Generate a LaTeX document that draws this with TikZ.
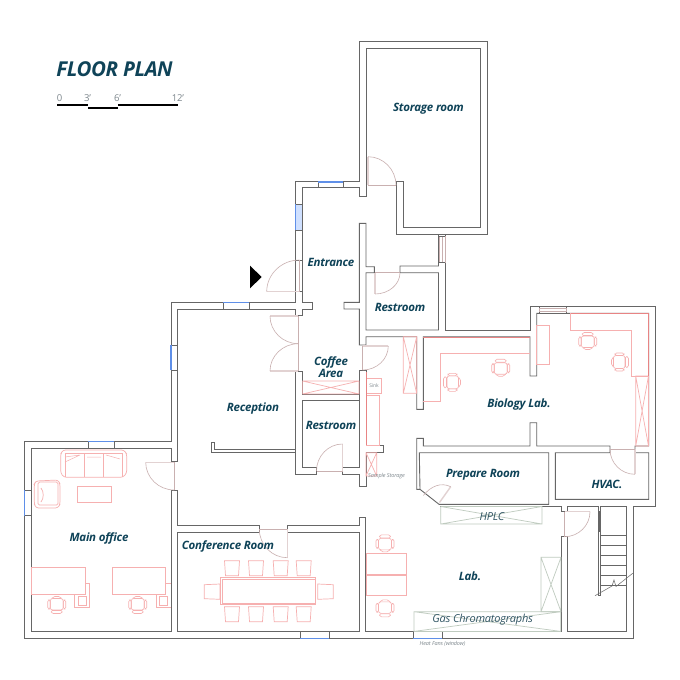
\documentclass[tikz,border=0pt]{standalone}
\usepackage{fontspec}
\setmainfont[LetterSpace=-2]{Open Sans}
\usetikzlibrary{calc}
\definecolor{wallc}{HTML}{666666}
\definecolor{doorc}{HTML}{C9B0B0}
\definecolor{leafc}{HTML}{E2D2D2}
\definecolor{redc}{HTML}{F6B0B0}
\definecolor{darkred}{HTML}{E88484}
\definecolor{greenc}{HTML}{BFCBBF}
\definecolor{bluec}{HTML}{5F8FE8}
\definecolor{lblue}{HTML}{CFE0FF}
\definecolor{teal0}{HTML}{0F4358}
\definecolor{grayt}{HTML}{7C868C}
\tikzset{
 wall/.style={draw=wallc,line width=0.9pt,line join=miter},
 jamb/.style={draw=wallc,line width=0.7pt},
 win/.style={draw=bluec,line width=1.5pt},
 doorarc/.style={draw=doorc,line width=0.6pt},
 leaf/.style={draw=leafc,line width=1.4pt},
 furn/.style={draw=redc,line width=0.7pt},
 furnd/.style={draw=darkred,line width=0.7pt},
 equip/.style={draw=greenc,line width=0.7pt},
 room/.style={text=teal0,font=\bfseries\itshape\fontsize{11.5}{12}\selectfont,inner sep=0pt,align=center},
 thin/.style={text=grayt,inner sep=0pt},
}
\newcommand\door[6]{%
 \draw[leaf] (#1,#2)--(#3,#4);
 \draw[doorarc] (#3,#4) .. controls ($(#3,#4)+0.55*(#5,#6)-0.55*(#1,#2)$) and ($(#5,#6)+0.55*(#3,#4)-0.55*(#1,#2)$) .. (#5,#6);
 \draw[doorarc] (#1,#2)--(#5,#6);
}
\newcommand\xbox[5]{\draw[#1] (#2,#3) rectangle (#4,#5) (#2,#3)--(#4,#5) (#2,#5)--(#4,#3);}
\newcommand\hwin[4]{%
 \draw[jamb] (#1,#4) -- (#1,#3) (#2,#3) -- (#2,#4);
 \draw[win] (#1,#3)--(#2,#3);}
\newcommand\vwin[4]{%
 \draw[jamb] (#3,#1)--(#4,#1) (#3,#2)--(#4,#2);
 \draw[win] (#3,#1)--(#3,#2);}
\newcommand\chair[3]{%
 \begin{scope}[shift={(#1,#2)},rotate=#3,furn,line width=0.6pt]
  \draw[rounded corners=2.5pt] (-6.5,-6.5) rectangle (6.5,5);
  \draw[rounded corners=1.5pt] (-6,5.5) -- (6,5.5) -- (5,8.5) -- (-5,8.5) -- cycle;
  \draw[rounded corners=1.5pt] (-9,-5) rectangle (-6.5,4);
  \draw[rounded corners=1.5pt] (6.5,-5) rectangle (9,4);
  \draw[rounded corners=2pt] (-5,-6.5) -- (-4,-8.5) -- (4,-8.5) -- (5,-6.5);
 \end{scope}}
\newcommand\cchair[8]{\draw[furn] (#1,#2)--(#3,#4)--(#5,#6)--(#7,#8)--cycle;}
\begin{document}
\begin{tikzpicture}[x=1pt,y=-1pt]
\useasboundingbox (0,0) rectangle (680,680);
\fill[white] (0,0) rectangle (680,680);
%% outer outline
\draw[wall] (359.3,41.3)--(487.3,41.3)--(487.3,234)--(396.7,234)--(396.7,181.7)--(403.3,181.7)--(403.3,227.3)--(480.7,227.3)--(480.7,48)--(366,48)--(366,196.7)--(359.3,196.7)--(359.3,187.9)--(302.3,187.9)--(302.3,302.3)--(312.7,302.3)--(312.7,309)--(302.3,309)--(302.3,315)--(295.3,315)--(295.3,309)--(177.7,309)--(177.7,461.7)--(171,461.7)--(171,448.7)--(31.3,448.7)--(31.3,631.7)--(171,631.7)--(171,490)--(177.7,490)--(177.7,525.5)--(259.3,525.5)--(259.3,532.3)--(177.7,532.3)--(177.7,631.7)--(359.3,631.7)--(359.3,532.3)--(287.7,532.3)--(287.7,525.5)--(359.3,525.5)--(359.3,517.3)--(365.7,517.3)--(365.7,631.7)--(561.3,631.7)--(561.3,536.7)--(567.3,536.7)--(567.3,631.7)--(626.7,631.7)--(626.7,506)--(600.7,506)--(600.7,595)--(598.3,595)--(598.3,506)--(567.3,506)--(567.3,511.5)--(561.3,511.5)--(561.3,506)--(440,506);
\draw[wall] (359.3,41.3)--(359.3,181.7)--(295.3,181.7)--(295.3,302.3)--(171,302.3)--(171,441.7)--(24.3,441.7)--(24.3,638.3)--(633.3,638.3)--(633.3,506)--(655.7,506)--(655.7,306)--(530,306)--(530,330)--(445.3,330)--(445.3,234);
\draw[wall] (438.5,234)--(438.5,266)--(400,266)--(400,272.7)--(438.5,272.7)--(438.5,330)--(366,330)--(366,272.7)--(374.3,272.7)--(374.3,266.7)--(366,266.7)--(366,223.3)--(359.3,223.3)--(359.3,302.3)--(344,302.3)--(344,309)--(359.3,309)--(359.3,345)--(366,345)--(366,336.7)--(416.7,336.7)--(416.7,409.3)--(423.3,409.3)--(423.3,336.7)--(530,336.7)--(530,376)--(536.7,376)--(536.7,313.3)--(648.7,313.3)--(648.7,446)--(635,446)--(635,452.7)--(648.7,452.7)--(648.7,499.3)--(555.3,499.3)--(555.3,452.7)--(610,452.7)--(610,446)--(536.7,446)--(536.7,422.7)--(530,422.7)--(530,446)--(423.3,446)--(423.3,438.3)--(416.7,438.3)--(416.7,489.3)--(420,489.3)--(419.3,452.7)--(548.7,452.7)--(548.7,504.3)--(439,504.3)--(420,489.3);
\draw[wall] (295.7,371.7)--(295.7,474.3)--(316,474.3)--(316,467.7)--(302.3,467.7)--(302.3,400.7)--(359.3,400.7)--(359.3,467.7)--(342.7,467.7)--(342.7,474.3)--(359.3,474.3)--(359.3,486.7)--(366,486.7)--(366,452.3)--(383,452.3)--(383,445.7)--(366,445.7)--(366,370)--(359.3,370)--(359.3,394)--(302.3,394)--(302.3,371.7)--cycle;
\draw[wall] (359.3,400.7)--(359.3,394);
\draw[jamb] (295.3,260)--(302.3,260) (295.3,291.7)--(302.3,291.7);
% half wall
\draw[wall] (295.7,452)--(211.7,452)--(211.7,442.3)--(214.5,442.3)--(214.5,449.3)--(295.7,449.3);
%% windows
\hwin{318.3}{343.3}{182}{187.9}
\fill[lblue] (295.3,204.3) rectangle (302.3,230);
\vwin{204.3}{230}{295.3}{302.3}
\hwin{223.3}{249}{302.3}{309}
\vwin{345}{370}{171}{177.7}
\hwin{88.3}{114}{441.7}{448.7}
\vwin{490}{515.7}{24.3}{31.3}
\hwin{300}{329.3}{638.3}{631.7}
\hwin{413.3}{442.3}{638.3}{631.7}
% pink-grey windows
\fill[white] (439,235) rectangle (445,262);
\draw[doorc,line width=0.5pt] (439.5,236.7) rectangle (444.8,262.7) (442.1,236.7)--(442.1,262.7);
\draw[jamb] (438.5,236.7)--(445.3,236.7) (438.5,262.7)--(445.3,262.7);
\fill[white] (540,305) rectangle (566,313);
\draw[jamb] (539.3,306)--(539.3,313.3) (566,306)--(566,313.3) (539.3,306)--(566,306);
\draw[doorc,line width=0.5pt] (539.3,308.3) rectangle (566,311);
%% doors
\fill[white] (367,183) rectangle (396,187);
\door{368}{185.3}{368}{156.7}{396}{185.3}
\door{375}{272.7}{375}{294}{400}{272.7}
\door{299.5}{291.7}{266.7}{291.7}{299.5}{260}
\door{298.3}{316}{270}{316}{298.3}{343.7}
\door{298.3}{371}{270}{371}{298.3}{343.7}
\door{362.7}{346}{388.3}{346}{362.7}{370}
\door{174.3}{462.3}{145.7}{462.3}{174.3}{490}
\door{287.3}{529}{287.3}{557.7}{259.3}{529}
\door{342.5}{471}{342.5}{444}{316.5}{471}
\door{635}{449.3}{635}{474.3}{610}{449.3}
\door{564.7}{511.7}{590}{511.7}{564.7}{536.7}
\draw[leaf] (439.5,502.5)--(450.7,486.7);
\draw[doorarc] (450.7,486.7) .. controls (441,482) and (431,486) .. (423.3,495.5);
%% entrance arrow
\fill[black] (250,265.7)--(261.7,277)--(250,288.3)--cycle;
%% stair
\fill[wallc] (598.3,511) rectangle (600.7,532);
\foreach \ty in {535,545,555,565,575,585.7}{\draw[jamb] (600.7,\ty)--(626.7,\ty);}
\coordinate (b1) at (595,595.7);\coordinate (b2) at (612,586);\coordinate (b3) at (614,580);\coordinate (b4) at (616,586.5);\coordinate (b5) at (632.7,573.3);
\draw[jamb,line width=0.5pt] (b1)--(b2)--(b3)--(b4)--(b5);
%% green equipment
\xbox{equip}{440.7}{506.5}{542}{524}
\xbox{equip}{414}{611.7}{560.7}{631.4}
\xbox{equip}{541}{557.3}{561}{611.7}
%% red equipment
\xbox{furn}{302.6}{381}{359}{394}
\xbox{furn}{403.3}{336.7}{416.7}{393.3}
\xbox{furn}{635.7}{376}{648.5}{446}
\xbox{furn}{366}{452.7}{376.7}{476}
\draw[furn] (366,378.3) rectangle (381.7,393.3);
\draw[furn] (366,395.7) rectangle (379.3,445.7);
\draw[furnd] (423.3,337.2)--(530,337.2);
\draw[furn] (423.3,401.7)--(440,401.7)--(440,353.3)--(530,353.3);
\draw[furn] (536.7,325) rectangle (549.3,364.3);
\draw[furn] (570.7,313.3)--(570.7,330)--(631.7,330)--(631.7,376)--(648.7,376);
\draw[furnd] (570.7,313.7)--(648.3,313.7)--(648.3,376);
\draw[furnd,line width=0.5pt] (366,372)--(366,445);
%% lab desks & chairs
\draw[furn] (366,553.3) rectangle (406.7,574.7);
\draw[furn] (366,575.7) rectangle (406.7,595.3);
\chair{385}{543.3}{180}
\chair{385}{608.3}{0}
\chair{587.7}{341}{180}
\chair{620}{362}{90}
\chair{500.7}{367.7}{180}
\chair{452}{382.3}{270}
%% main office
\draw[furn,rounded corners=2.5pt] (60.7,454)--(63,450)--(124,450)--(126.7,454)--(126.7,473)--(123,477.3)--(64,477.3)--(60.7,473)--cycle;
\draw[furn] (65,453)--(122,453) (65,453)--(65,477.3) (122,453)--(122,477.3) (84.3,453)--(84.3,477.3) (103.3,453)--(103.3,477.3);
\draw[furn,line width=0.5pt] (65,457)--(80,455) (65,462)--(80,455) (87,457)--(101,457) (106,455)--(120,459);
\draw[furn,rounded corners=2.5pt] (34.3,484)--(36,481)--(58,480)--(60,484)--(60,504)--(58,508)--(36,508)--(34.3,504)--cycle;
\draw[furn,rounded corners=1.5pt] (38,482)--(58,482)--(58,505)--(38,505)--cycle;
\draw[furn] (41,488) .. controls (44,492) and (44,498) .. (41,502);
\draw[furn] (77,486) rectangle (111,502.3);
\draw[furn] (31.3,567.3) rectangle (85,594);
\draw[furn] (74.7,594)--(74.7,607.3)--(89.7,607.3)--(89.7,583.3)--(85,583.3);
\draw[furn] (78.3,596.7) rectangle (86.7,605.7);
\draw[furn] (112.3,567.3) rectangle (165.7,594);
\draw[furn] (156,594)--(156,607.3)--(171,607.3) (165.7,583.3)--(171,583.3);
\draw[furn] (159.3,596.7) rectangle (167.7,605.7);
\chair{56.7}{605}{0}
\chair{137.7}{605}{0}
%% conference
\draw[furn] (220.7,577.7) rectangle (315.7,604.3);
\draw[furn,line width=0.4pt] (221.7,578.7) rectangle (314.7,603.3);
\foreach \cx in {232,256,280.7,303.7}{
 \cchair{\cx-7.5}{560.7}{\cx+7.5}{560.7}{\cx+6.5}{575.7}{\cx-6.5}{575.7}
 \cchair{\cx-7.5}{606.7}{\cx+7.5}{606.7}{\cx+6.5}{621.7}{\cx-6.5}{621.7}
}
\cchair{204.3}{584.7}{220}{584}{220}{599.3}{204.3}{598.7}
\cchair{317.7}{584}{333.3}{584.7}{333.3}{598.7}{317.7}{599.3}
%% texts
\node[inner sep=0pt,text=teal0,font=\bfseries\itshape\fontsize{20.5}{22}\selectfont] (title) at (114.5,69) {FLOOR PLAN};
\node[thin,font=\fontsize{9.5}{10}\selectfont] (s0) at (59.5,98) {0};
\node[thin,font=\fontsize{9.5}{10}\selectfont] (s3) at (87.5,98) {3'};
\node[thin,font=\fontsize{9.5}{10}\selectfont] (s6) at (117.5,98) {6'};
\node[thin,font=\fontsize{9.5}{10}\selectfont] (s12) at (178,98) {12'};
\draw[black,line width=2pt] (57,105)--(88,105);
\draw[black,line width=2pt] (88,107.5)--(118,107.5);
\draw[black,line width=2pt] (118,105)--(178,105);
\node[room] (n1) at (428.5,109) {Storage room};
\node[room] (n2) at (331,262.7) {Entrance};
\node[room] (n3) at (400,307.7) {Restroom};
\node[room,font=\bfseries\itshape\fontsize{11.5}{11}\selectfont] (n4) at (331,367.5) {Coffee\\Area};
\node[room] (n5) at (253,409) {Reception};
\node[room] (n6) at (331,425.7) {Restroom};
\node[room] (n7) at (519,404.5) {Biology Lab.};
\node[room] (n8) at (483,474.5) {Prepare Room};
\node[room] (n9) at (607,484.5) {HVAC.};
\node[room] (n10) at (470,576) {Lab.};
\node[room] (n11) at (99,538.7) {Main office};
\node[room] (n12) at (228,546.5) {Conference Room};
\node[thin,text=teal0!70!gray,font=\itshape\fontsize{11}{12}\selectfont] (n13) at (492,517) {HPLC};
\node[thin,text=teal0!70!gray,font=\itshape\fontsize{11}{12}\selectfont] (n14) at (482.7,620) {Gas Chromatographs};
\node[thin,font=\itshape\fontsize{5.5}{6}\selectfont] (n15) at (442.5,643.5) {Heat Fans (window)};
\node[thin,font=\fontsize{5}{5}\selectfont] (n16) at (374,386) {Sink};
\node[thin,font=\itshape\fontsize{5.5}{6}\selectfont] (n17) at (386.5,476) {Sample Storage};
\end{tikzpicture}
\end{document}
